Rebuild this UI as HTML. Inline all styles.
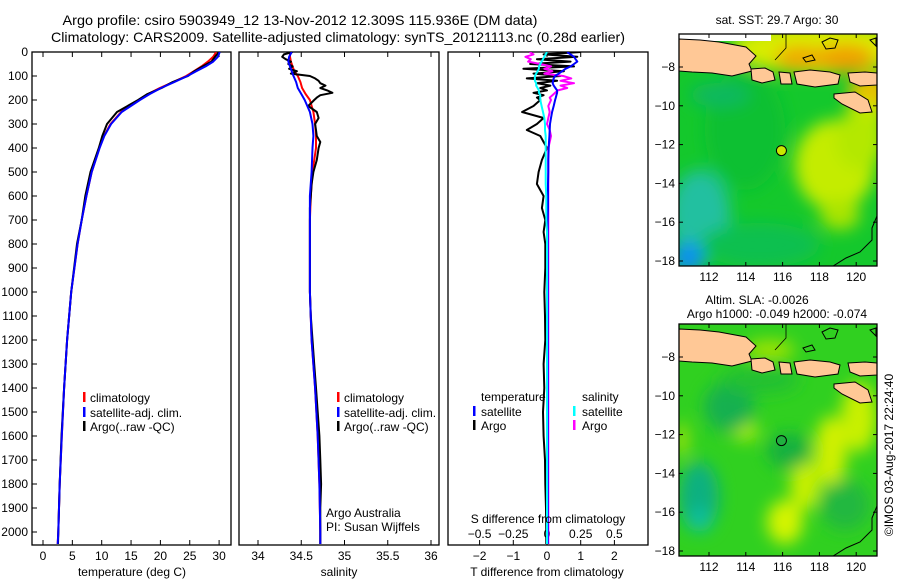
<!DOCTYPE html>
<html><head><meta charset="utf-8"><style>
html,body{margin:0;padding:0;background:#fff}
svg{display:block;font-family:"Liberation Sans",Arial,sans-serif}
</style></head><body>
<svg id="fig" width="900" height="580" viewBox="0 0 900 580" xmlns="http://www.w3.org/2000/svg">
<defs>
<filter id="blur1" x="-50%" y="-50%" width="200%" height="200%"><feGaussianBlur stdDeviation="8"/></filter>
<clipPath id="clipM1"><rect x="679" y="34" width="198" height="232"/></clipPath>
<clipPath id="clipM2"><rect x="679" y="324" width="198" height="232"/></clipPath>
<clipPath id="clipP1"><rect x="32" y="52" width="199" height="493"/></clipPath>
<clipPath id="clipP2"><rect x="239" y="52" width="200" height="493"/></clipPath>
<clipPath id="clipP3"><rect x="448" y="52" width="200" height="493"/></clipPath>
</defs>
<text x="300" y="25" font-size="14" text-anchor="middle" textLength="475" lengthAdjust="spacingAndGlyphs">Argo profile: csiro 5903949_12 13-Nov-2012 12.309S 115.936E (DM data)</text>
<text x="338" y="42" font-size="14" text-anchor="middle" textLength="574" lengthAdjust="spacingAndGlyphs">Climatology: CARS2009. Satellite-adjusted climatology: synTS_20121113.nc (0.28d earlier)</text>
<g id="maps"></g>
<g id="panels"></g>
<text transform="translate(893,455) rotate(-90)" font-size="12" text-anchor="middle">©IMOS 03-Aug-2017 22:24:40</text>
</svg>
<script>
// ---- data ----
const depthCoarse=[0,20,40,60,80,100,125,150,175,200,250,300,350,400,500,600,700,800,1000,1200,1400,1600,1800,2000,2050];
const tempClim=[29.5,29.0,28.1,27.0,25.7,24.4,22.2,19.9,17.9,16.3,13.3,11.5,10.4,9.6,8.3,7.4,6.6,5.9,4.8,4.1,3.6,3.2,2.85,2.6,2.5];
const tempSat=[30.1,29.8,29.0,27.7,26.1,24.6,22.4,20.1,18.2,16.5,13.4,11.6,10.45,9.65,8.3,7.4,6.6,5.9,4.8,4.1,3.6,3.2,2.85,2.6,2.5];
const tempArgo=[30.0,29.3,28.7,27.2,25.8,24.7,22.1,20.2,17.8,16.2,12.6,10.9,10.1,9.5,8.1,7.2,6.6,5.8,4.8,4.1,3.6,3.15,2.85,2.6,2.55];
const salClim=[34.37,34.37,34.38,34.4,34.42,34.46,34.49,34.51,34.55,34.6,34.64,34.66,34.67,34.67,34.63,34.61,34.6,34.6,34.6,34.62,34.66,34.69,34.71,34.72,34.72];
const salSat=[34.39,34.36,34.35,34.37,34.39,34.41,34.44,34.46,34.5,34.54,34.6,34.63,34.64,34.63,34.62,34.6,34.6,34.6,34.6,34.62,34.66,34.69,34.71,34.72,34.72];
const depthFine=[0,10,20,30,40,50,60,70,80,90,100,110,120,130,140,150,160,170,180,190,200,225,250,275,300,325,350,375,400,450,500,550,600,650,700,750,800,900,1000,1100,1200,1300,1400,1500,1600,1700,1800,1900,2000,2050];
const salArgo=[34.4,34.3,34.28,34.32,34.38,34.35,34.4,34.36,34.45,34.38,34.6,34.66,34.7,34.72,34.78,34.72,34.8,34.86,34.72,34.68,34.65,34.58,34.68,34.7,34.66,34.67,34.68,34.72,34.7,34.68,34.64,34.62,34.61,34.6,34.6,34.6,34.6,34.6,34.6,34.61,34.63,34.65,34.67,34.69,34.71,34.72,34.73,34.72,34.72,34.72];
const satTempDiff=[0.6,0.7,0.8,0.85,0.9,0.8,0.7,0.55,0.45,0.35,0.24,0.2,0.18,0.17,0.2,0.25,0.3,0.3,0.28,0.26,0.24,0.2,0.15,0.12,0.09,0.08,0.07,0.06,0.05,0.04,0.04,0.03,0.03,0.03,0.02,0.02,0.02,0.02,0.02,0.02,0.02,0.02,0.02,0.02,0.02,0.02,0.02,0.02,0.02,0.02];
const argoTempDiff=[1.0,-0.1,0.9,-0.3,0.7,-0.5,0.8,-0.7,0.5,-0.4,0.4,-0.6,0.3,-0.3,0.1,-0.2,0.0,-0.4,-0.1,-0.3,-0.2,-0.4,-0.74,-0.1,-0.3,-0.6,-0.2,-0.1,0.0,-0.15,-0.25,-0.3,-0.1,-0.15,-0.05,-0.1,-0.05,-0.05,-0.08,-0.06,-0.05,-0.1,-0.08,-0.12,-0.1,-0.06,-0.05,-0.03,-0.02,-0.02];
const satSalDiff=[0,-0.01,-0.02,-0.03,-0.04,-0.05,-0.06,-0.06,-0.07,-0.08,-0.09,-0.09,-0.09,-0.08,-0.08,-0.07,-0.06,-0.06,-0.05,-0.05,-0.05,-0.04,-0.03,-0.02,-0.015,-0.015,-0.01,-0.01,-0.01,-0.01,-0.01,-0.01,-0.005,-0.005,-0.005,0,0,0,0,0,0,0,0,0,0,0,0,0,0,0];
const argoSalDiff=[-0.13,-0.1,-0.16,-0.12,-0.14,-0.05,0.03,-0.02,0.04,-0.02,0.12,0.18,0.1,0.2,0.1,0.15,0.08,0.06,0.04,0.02,0.03,0.01,0.02,0.01,0.0,0.02,0.03,0.02,0.01,0.01,0.01,0.01,0.01,0.01,0.01,0.01,0.01,0.01,0.01,0.01,0.01,0.01,0.01,0.01,0.01,0.01,0.01,0.01,0.01,0.01];
const depthTicks=[0,100,200,300,400,500,600,700,800,900,1000,1100,1200,1300,1400,1500,1600,1700,1800,1900,2000];
const tempTicks=[0,5,10,15,20,25,30];
const salTicks=[34,34.5,35,35.5,36];
const tdiffTicks=[-2,-1,0,1,2];
const sdiffTicks=[-0.5,-0.25,0,0.25,0.5];
const lonTicks=[112,114,116,118,120];
const latTicks=[-8,-10,-12,-14,-16,-18];
const argoLon=115.936, argoLat=-12.309;

// ---- scales ----
const yD=d=>52+d*0.24;
const xT=t=>43+t*5.87;
const xS=s=>258+(s-34)*86.5;
const xTd=t=>547+t*33.7;
const xSd=s=>547+s*134.8;
const mx=lon=>709+(lon-112)*18.4;
const myBase=lat=>67+(-8-lat)*19.4;

const NS='http://www.w3.org/2000/svg';
function mk(tag,attrs,parent){const e=document.createElementNS(NS,tag);for(const k in attrs)e.setAttribute(k,attrs[k]);parent.appendChild(e);return e;}
const panels=document.getElementById('panels');

function line(parent,depths,vals,xf,color,name){
  const pts=depths.map((d,i)=>xf(vals[i]).toFixed(1)+','+yD(d).toFixed(1)).join(' ');
  const p=mk('polyline',{points:pts,fill:'none',stroke:color,'stroke-width':2,'stroke-linejoin':'round'},parent);
  
  
}
function frame(x,w,name){
  const r=mk('rect',{x:x,y:52,width:w,height:493,fill:'none',stroke:'#000','stroke-width':1.3},panels);
  
  
}
function xticks(vals,xf,labels,ly,name,top){
  vals.forEach((v,i)=>{
    const x=xf(v);
    mk('line',{x1:x,x2:x,y1:545,y2:540,stroke:'#000'},panels);
    if(top) mk('line',{x1:x,x2:x,y1:52,y2:57,stroke:'#000'},panels);
    const t=mk('text',{x:x,y:ly,'font-size':12,'text-anchor':'middle'},panels);
    t.textContent=labels[i];
    
    
  });
}
function label(x,y,txt,name,anchor){
  const t=mk('text',{x:x,y:y,'font-size':12,'text-anchor':anchor||'start'},panels);
  t.textContent=txt;
  
  
}
function legendItem(bx,tx,y,color,txt,name){
  mk('rect',{x:bx,y:y-10,width:2.5,height:10,fill:color},panels);
  const t=mk('text',{x:tx,y:y,'font-size':12},panels);
  t.textContent=txt;
  
  
}

// panel 1 temperature
frame(32,199,'temperature-panel');
depthTicks.forEach(d=>{
  const y=yD(d);
  mk('line',{x1:32,x2:37,y1:y,y2:y,stroke:'#000'},panels);
  const t=mk('text',{x:28,y:y+4,'font-size':12,'text-anchor':'end'},panels);
  t.textContent=d;
  
  
});
xticks(tempTicks,xT,tempTicks.map(String),560,'temperature-tick-label',true);
const g1=mk('g',{'clip-path':'url(#clipP1)'},panels);
line(g1,depthCoarse,tempClim,xT,'#ff0000','temperature-climatology-line');
line(g1,depthCoarse,tempArgo,xT,'#000000','temperature-argo-line');
line(g1,depthCoarse,tempSat,xT,'#0000ff','temperature-satellite-line');
label(132,576,'temperature (deg C)','temperature-axis-title','middle');
legendItem(83,90,402,'#ff0000','climatology','legend-climatology');
legendItem(83,90,417,'#0000ff','satellite-adj. clim.','legend-satellite');
legendItem(83,90,431,'#000000','Argo(..raw -QC)','legend-argo');

// panel 2 salinity
frame(239,200,'salinity-panel');
xticks(salTicks,xS,['34','34.5','35','35.5','36'],560,'salinity-tick-label',true);
const g2=mk('g',{'clip-path':'url(#clipP2)'},panels);
line(g2,depthCoarse,salClim,xS,'#ff0000','salinity-climatology-line');
line(g2,depthFine,salArgo,xS,'#000000','salinity-argo-line');
line(g2,depthCoarse,salSat,xS,'#0000ff','salinity-satellite-line');
label(339,576,'salinity','salinity-axis-title','middle');
legendItem(337,344,402,'#ff0000','climatology','legend-climatology-2');
legendItem(337,344,417,'#0000ff','satellite-adj. clim.','legend-satellite-2');
legendItem(337,344,431,'#000000','Argo(..raw -QC)','legend-argo-2');
label(326,517,'Argo Australia','credit-argo-australia');
label(326,531,'PI: Susan Wijffels','credit-pi');

// panel 3 differences
frame(448,200,'difference-panel');
xticks(tdiffTicks,xTd,['\u22122','\u22121','0','1','2'],560,'t-diff-tick-label',false);
sdiffTicks.forEach((v,i)=>{
  const x=xSd(v);
  mk('line',{x1:x,x2:x,y1:52,y2:57,stroke:'#000'},panels);
  const t=mk('text',{x:x,y:538,'font-size':12,'text-anchor':'middle'},panels);
  t.textContent=['\u22120.5','\u22120.25','0','0.25','0.5'][i];
  
  
});
const g3=mk('g',{'clip-path':'url(#clipP3)'},panels);
line(g3,depthFine,argoTempDiff,xTd,'#000000','t-diff-argo-line');
line(g3,depthFine,argoSalDiff,xSd,'#ff00ff','s-diff-argo-line');
line(g3,depthFine,satTempDiff,xTd,'#0000ff','t-diff-satellite-line');
line(g3,depthFine,satSalDiff,xSd,'#00ffff','s-diff-satellite-line');
label(548,523,'S difference from climatology','s-diff-axis-title','middle');
label(547,576,'T difference from climatology','t-diff-axis-title','middle');
label(481,401,'temperature','legend-temperature-header');
label(582,401,'salinity','legend-salinity-header');
legendItem(473,481,416,'#0000ff','satellite','legend-t-satellite');
legendItem(473,481,430,'#000000','Argo','legend-t-argo');
legendItem(573,582,416,'#00ffff','satellite','legend-s-satellite');
legendItem(573,582,430,'#ff00ff','Argo','legend-s-argo');

// ---- maps ----
const maps=document.getElementById('maps');
const landPolys=[
 [[679,39],[700,40],[719,42],[746,47],[756,56],[749,64],[752,71],[732,76],[712,73],[692,72],[679,71]],
 [[751,69],[765,68],[773,72],[775,80],[762,83],[752,80]],
 [[779,72],[790,73],[792,84],[781,84]],
 [[794,72],[810,70],[830,72],[840,75],[838,84],[815,87],[797,84]],
 [[848,73],[865,72],[877,73],[877,85],[860,86],[850,82]],
 [[834,94],[855,92],[868,100],[872,112],[860,113],[842,104],[834,98]]
];
const islandOutlines=[[[822,42],[830,38],[838,40],[835,48],[826,49]],[[803,58],[812,55],[815,60],[806,62]],[[870,40],[876,38],[876,46]]];
function drawMap(off,clip,name,blobs,base,title1,title2,markFill){
  const g=mk('g',{},maps);
  
  
  const c=mk('g',{'clip-path':'url(#'+clip+')'},g);
  mk('rect',{x:679,y:32+off,width:198,height:236,fill:base},c);
  const bg=mk('g',{filter:'url(#blur1)'},c);
  blobs.forEach(b=>mk('ellipse',{cx:b[0],cy:b[1]+off,rx:b[2],ry:b[3],fill:b[4]},bg));
  if(off===0) mk('rect',{x:679,y:34,width:92,height:7,fill:'#fff'},c);
  landPolys.forEach(p=>mk('polygon',{points:p.map(q=>q[0]+','+(q[1]+off)).join(' '),fill:'#ffc896',stroke:'#000','stroke-width':1},c));
  islandOutlines.forEach(p=>mk('polygon',{points:p.map(q=>q[0]+','+(q[1]+off)).join(' '),fill:'none',stroke:'#000','stroke-width':1},c));
  mk('polyline',{points:[[786,34],[786,48],[775,60]].map(q=>q[0]+','+(q[1]+off)).join(' '),fill:'none',stroke:'#000','stroke-width':0.8},c);
  mk('polyline',{points:[[877,216],[872,228],[872,240],[860,252],[846,258],[830,268]].map(q=>q[0]+','+(q[1]+off)).join(' '),fill:'none',stroke:'#000','stroke-width':1},c);
  const mkr=mk('circle',{cx:mx(argoLon),cy:myBase(argoLat)+off,r:5,fill:markFill,stroke:'#000','stroke-width':1},g);
  
  
  mk('rect',{x:679,y:34+off,width:198,height:232,fill:'none',stroke:'#000','stroke-width':1.3},g);
  lonTicks.forEach(l=>{
    const x=mx(l), yb=266+off;
    mk('line',{x1:x,x2:x,y1:yb,y2:yb-4,stroke:'#000'},g);
    mk('line',{x1:x,x2:x,y1:34+off,y2:38+off,stroke:'#000'},g);
    const t=mk('text',{x:x,y:yb+15,'font-size':12,'text-anchor':'middle'},g);
    t.textContent=l;
    
    
  });
  latTicks.forEach(l=>{
    const y=myBase(l)+off;
    mk('line',{x1:679,x2:683,y1:y,y2:y,stroke:'#000'},g);
    mk('line',{x1:877,x2:873,y1:y,y2:y,stroke:'#000'},g);
    const t=mk('text',{x:675,y:y+4,'font-size':12,'text-anchor':'end'},g);
    t.textContent=String(l).replace('-','\u2212');
    
    
  });
  title1&&(()=>{const t=mk('text',{x:title1[1],y:title1[2],'font-size':12,'text-anchor':'middle'},g);t.textContent=title1[0];})();
  title2&&(()=>{const t=mk('text',{x:title2[1],y:title2[2],'font-size':12,'text-anchor':'middle'},g);t.textContent=title2[0];})();
}
drawMap(0,'clipM1','sst-map',[
 [820,48,90,26,'#d8ec00'],[800,58,25,12,'#f0a800'],[845,58,30,14,'#f0a000'],[870,95,22,22,'#e8c000'],[865,120,20,20,'#c8e800'],
 [835,165,40,45,'#c4ec00'],[860,140,25,30,'#b4e800'],[840,215,20,15,'#a8e400'],
 [700,215,30,45,'#20c0a0'],[688,258,16,16,'#1090f0'],[760,245,60,22,'#10c050'],[745,130,40,60,'#10c030'],[720,95,30,12,'#10b860']
],'#14c82c',['sat. SST: 29.7 Argo: 30',777,24],null,'#c8e800');
drawMap(290,'clipM2','sla-map',[
 [831,161,16,35,'#d0f000'],[805,195,15,25,'#c8f000'],[785,232,18,22,'#d4f400'],[859,127,18,35,'#c8f000'],[745,141,14,10,'#a8ec00'],
 [699,207,20,35,'#10b080'],[700,230,12,12,'#10c0a0'],[729,117,25,25,'#14b050'],[789,161,22,18,'#14b040'],[845,215,25,25,'#20b840'],[760,90,40,14,'#20c030'],[682,150,5,18,'#c0e800'],[770,60,25,10,'#a0e400']
],'#30d020',['Altim. SLA: -0.0026',757,304],['Argo h1000: -0.049 h2000: -0.074',777,318],'#20b040');
</script>
</body></html>
